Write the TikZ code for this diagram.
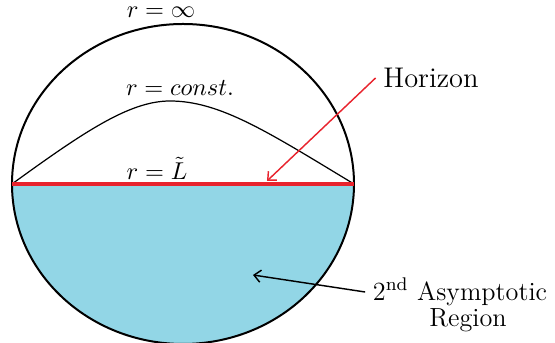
\documentclass[tikz,border=0pt]{standalone}
\usepackage{amsmath}
\usepackage{amssymb}
\usepackage{tikz}
\usetikzlibrary{positioning,arrows.meta}

\definecolor{regionblue}{RGB}{146,214,230}
\definecolor{horizonred}{RGB}{232,35,45}

\tikzset{
  rlabel/.style={font=\fontsize{10.5}{12}\selectfont, inner sep=1pt},
  bigtext/.style={font=\fontsize{11.8}{14}\selectfont},
  pointer/.style={-{Straight Barb[length=3pt,width=5.5pt]}, line width=0.65pt}
}

\begin{document}
\begin{tikzpicture}[x=0.45pt,y=0.45pt]
\useasboundingbox (0,0) rectangle (555,343);

%points on the boundary
\coordinate (L) at (12,159);
\coordinate (R) at (354,159);
\coordinate (peak) at (170,242);

%second asymptotic region
\fill[regionblue] (L) arc[start angle=180, end angle=360, x radius=171, y radius=160] -- cycle;

\draw[line width=0.55pt] (L) .. controls (85,212) and (130,242) .. (peak)
  .. controls (220,242) and (268,211) .. (R);
\draw[line width=0.9pt] (183,159) ellipse [x radius=171, y radius=160];
\draw[horizonred, line width=1.4pt] (L)--(R);

\node[rlabel] (rinf) at (161,331) {$r=\infty$};
\node[rlabel] (rconst) at (180,255) {$r=const.$};
\node[rlabel] (rL) at (157,175) {$r=\tilde{L}$};

\node[font=\fontsize{12.8}{15}\selectfont] (horizon) at (431,265) {Horizon};
\coordinate (hz) at (267,162);
\draw[pointer, horizonred] (horizon.west)--(hz);

\node[bigtext] (asym) at (460,51) {2\textsuperscript{nd} Asymptotic};
\node[bigtext] (reg) at (468,23) {Region};
\coordinate (rg) at (253,68);
\draw[pointer] (asym.west)--(rg);

\end{tikzpicture}
\end{document}
